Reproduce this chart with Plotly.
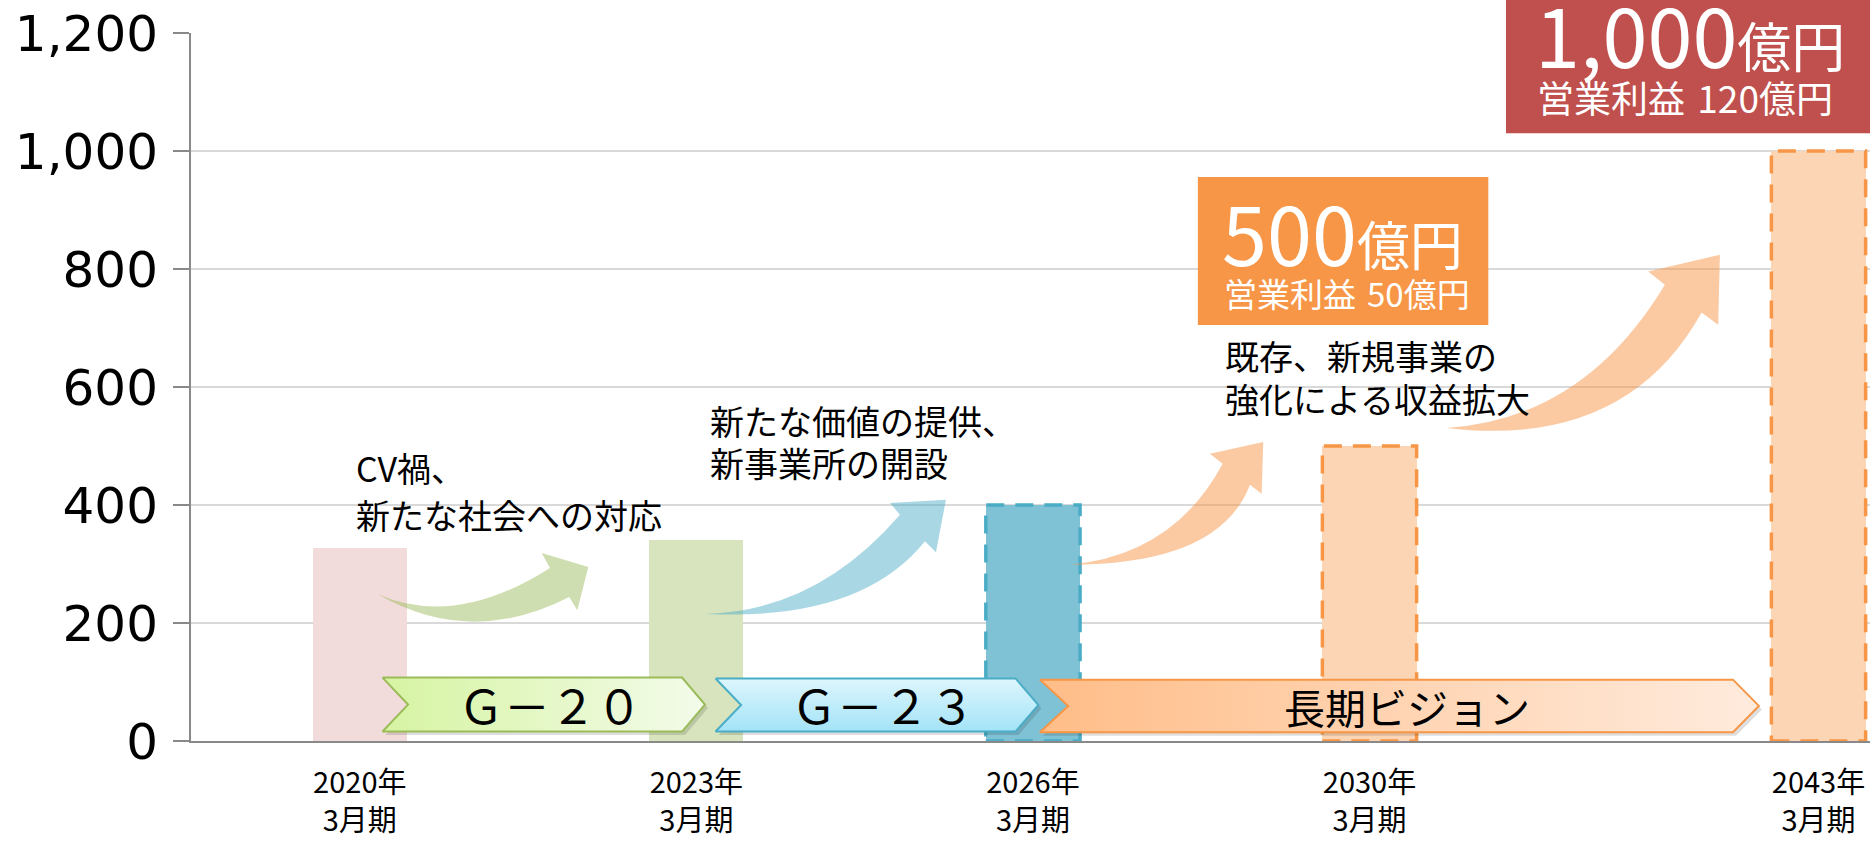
import plotly.graph_objects as go

# ---------------- data ----------------
periods = ["2020年", "2023年", "2026年", "2030年", "2043年"]
period_suffix = "3月期"
sales = [327, 341, 400, 500, 1000]          # 売上高（億円）
is_target = [False, False, True, True, True]
y_ticks = [0, 200, 400, 600, 800, 1000, 1200]

phase_names = ["Ｇ－２０", "Ｇ－２３", "長期ビジョン"]
note_2020 = ["CV禍、", "新たな社会への対応"]
note_2023 = ["新たな価値の提供、", "新事業所の開設"]
note_2030 = ["既存、新規事業の", "強化による収益拡大"]
goal_2030 = ("500", "億円", "営業利益\u200450億円")
goal_2043 = ("1,000", "億円", "営業利益\u2004120億円")

# ---------------- layout / style ----------------
slot = [0, 1, 2, 3, 4.334]       # horizontal slot of each period
bar_w = 0.28
bar_fill = ["#F2DCDB", "#D7E4BD", "#80C2D5", "#FCD5B5", "#FCD5B5"]
bar_edge = [None, None, "#4BACC6", "#F79646", "#F79646"]
JP = "Noto Sans CJK JP"

fig = go.Figure()
fig.add_trace(go.Bar(x=slot, y=sales, width=bar_w, marker=dict(color=bar_fill, line=dict(width=0)),
                     hoverinfo="skip"))

# dashed outlines for target bars
for s, v, t, c in zip(slot, sales, is_target, bar_edge):
    if t:
        h = bar_w / 2
        fig.add_trace(go.Scatter(x=[s - h, s + h, s + h, s - h, s - h], y=[0, 0, v, v, 0],
                                 mode="lines", line=dict(color=c, width=3.5, dash="18px,11px"),
                                 hoverinfo="skip"))

# phase chevrons
def chevron(x0, x1, notch, tip, yb, yt):
    ym = (yb + yt) / 2
    return [x0, x1 - tip, x1, x1 - tip, x0, x0 + notch, x0], [yt, yt, ym, yb, yb, ym, yt]

chev_spec = [
    (0.0674, 1.0255, 0.076, 0.068, 16, 107.5, "#9BBB59", "horizontal", [[0, "#D6F4A2"], [1, "#F3FBEA"]]),
    (1.0570, 2.0163, 0.076, 0.068, 16, 106, "#4BACC6", "vertical", [[0, "#A3E3F7"], [1, "#DDF6FD"]]),
    (2.0208, 4.1569, 0.084, 0.077, 15, 104, "#F79646", "horizontal", [[0, "#FFBD88"], [1, "#FFEBDD"]]),
]
for x0, x1, n, tp, yb, yt, lc, gt, cs in chev_spec:
    xs, ys = chevron(x0, x1, n, tp, yb, yt)
    fig.add_trace(go.Scatter(x=[x + 0.009 for x in xs], y=[y - 6 for y in ys], fill="toself",
                             fillcolor="rgba(0,0,0,0.13)", line=dict(width=0), mode="lines",
                             hoverinfo="skip"))
    fig.add_trace(go.Scatter(x=xs, y=ys, fill="toself", mode="lines",
                             fillgradient=dict(type=gt, colorscale=cs),
                             line=dict(color=lc, width=2), hoverinfo="skip"))

# curved arrows (decoration)
arrows = [
    dict(T=(0.055, 248.1), Cu=(0.2858, 191.4), U=(0.565, 293.4), B1=(0.5404, 318.8), P=(0.6789, 295.1),
         B2=(0.6462, 221.5), L=(0.6224, 244.2), Cl=(0.3289, 158.4), color="rgba(155,187,89,0.48)"),
    dict(T=(1.0285, 215.4), Cu=(1.3583, 220.5), U=(1.6049, 383.6), B1=(1.5752, 403.5), P=(1.7415, 409.0),
         B2=(1.7118, 319.8), L=(1.6792, 338.4), Cl=(1.4875, 202.4), color="rgba(75,172,198,0.48)"),
    dict(T=(2.1099, 298.9), Cu=(2.4177, 315.0), U=(2.5636, 470.0), B1=(2.5258, 487.0), P=(2.6842, 506.8),
         B2=(2.6794, 419.2), L=(2.6447, 434.5), Cl=(2.5555, 298.9), color="rgba(247,150,70,0.5)"),
    dict(T=(3.229, 530.5), Cu=(3.6370, 545.6), U=(3.8776, 773.2), B1=(3.828, 795.7), P=(4.041, 824.0),
         B2=(4.0359, 705.4), L=(3.9866, 726.3), Cl=(3.7611, 494.6), color="rgba(247,150,70,0.5)"),
]
shapes = []
def pt(p):
    return f"{p[0]},{p[1]}"
for a in arrows:
    path = (f"M {pt(a['T'])} Q {pt(a['Cu'])} {pt(a['U'])} L {pt(a['B1'])} L {pt(a['P'])} "
            f"L {pt(a['B2'])} L {pt(a['L'])} Q {pt(a['Cl'])} {pt(a['T'])} Z")
    shapes.append(dict(type="path", path=path, xref="x", yref="y", fillcolor=a["color"],
                       line=dict(width=0), layer="above"))

# goal boxes
shapes.append(dict(type="rect", xref="x", yref="y", x0=2.49, x1=3.353, y0=705, y1=956,
                   fillcolor="#F79646", line=dict(width=0), layer="above"))
shapes.append(dict(type="rect", xref="paper", yref="paper", x0=0.7832, x1=1.01, y0=0.8583, y1=1.06,
                   fillcolor="#C0504D", line=dict(width=0), layer="above"))

annotations = []
def note(text, x, y, size=34, color="#000000", xanchor="left", xref="x", yref="y"):
    annotations.append(dict(text=text, x=x, y=y, xref=xref, yref=yref, xanchor=xanchor,
                            yanchor="middle", showarrow=False, font=dict(family=JP, size=size, color=color)))

note(note_2020[0], -0.0184, 464)
note(note_2020[1], -0.0184, 384)
note(note_2023[0], 1.0345, 543)
note(note_2023[1], 1.0345, 472)
note(note_2030[0], 2.5645, 653)
note(note_2030[1], 2.5645, 581)

for name, (x0, x1, n, tp, yb, yt, *_r), yc, fs in zip(phase_names, chev_spec, [62, 62, 60], [46, 46, 41]):
    note(name, (x0 + n + x1) / 2 - 0.02, yc, size=fs, xanchor="center")

note(f"{goal_2030[0]}<span style='font-size:53px'>{goal_2030[1]}</span>", 2.557, 866, size=81, color="#FFFFFF")
note(goal_2030[2], 2.5615, 759, size=33, color="#FFFFFF")
note(f"{goal_2043[0]}<span style='font-size:54px'>{goal_2043[1]}</span>", 0.7995, 1.0005, size=81,
     color="#FFFFFF", xref="paper", yref="paper")
note(goal_2043[2], 0.8003, 0.9096, size=37, color="#FFFFFF", xref="paper", yref="paper")

fig.update_layout(
    width=1870, height=841,
    margin=dict(l=191, r=0, t=33, b=100),
    paper_bgcolor="white", plot_bgcolor="white",
    showlegend=False, bargap=0,
    shapes=shapes, annotations=annotations,
    xaxis=dict(range=[-0.5015, 4.487], tickvals=slot,
               ticktext=[f"{p}<br>{period_suffix}" for p in periods],
               tickfont=dict(family=JP, size=29, color="#000000"), ticks="",
               ticklabelstandoff=15,
               showgrid=False, zeroline=False, showline=True, linecolor="#898989", linewidth=2),
    yaxis=dict(range=[0, 1200], tickvals=y_ticks, tickformat=",",
               tickfont=dict(family="DejaVu Sans", size=50, color="#000000"),
               ticks="outside", ticklen=16, tickcolor="#898989", tickwidth=1.5,
               ticklabelstandoff=5,
               showgrid=True, gridcolor="#D9D9D9", gridwidth=1.5, zeroline=False,
               showline=True, linecolor="#898989", linewidth=2),
)

fig.write_html("out.html", config={"displayModeBar": False},
               post_script="document.body.style.margin='0';document.body.style.overflow='hidden';")
